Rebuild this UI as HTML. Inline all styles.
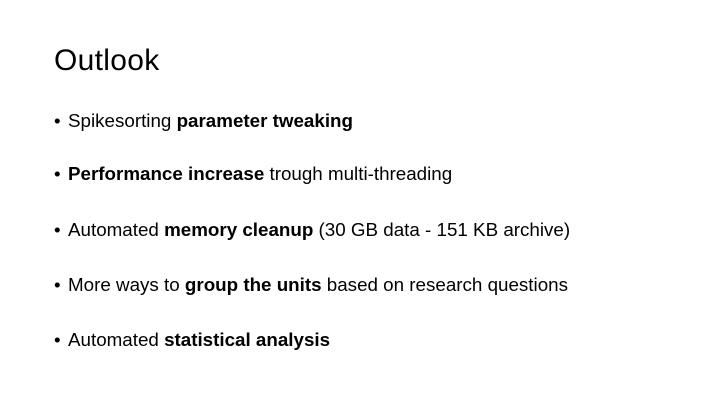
<!DOCTYPE html>
<html><head><meta charset="utf-8"><style>
body{margin:0;width:720px;height:405px;background:#fff;overflow:hidden;font-family:"Liberation Sans",sans-serif;color:#000}
h1{position:absolute;left:54px;top:44px;margin:0;font-weight:normal;font-size:30px;letter-spacing:0.3px}
.b{position:absolute;left:54px;font-size:18.8px;white-space:nowrap}
.b::before{content:"•";position:absolute;left:0}
.b span.t{margin-left:14px}
</style></head><body>
<h1>Outlook</h1>
<div class="b" style="top:110px"><span class="t">Spikesorting <b>parameter tweaking</b></span></div>
<div class="b" style="top:163px"><span class="t"><b>Performance increase</b> trough multi-threading</span></div>
<div class="b" style="top:219px"><span class="t">Automated <b>memory cleanup</b> (30 GB data - 151 KB archive)</span></div>
<div class="b" style="top:274px"><span class="t">More ways to <b>group the units</b> based on research questions</span></div>
<div class="b" style="top:329px"><span class="t">Automated <b>statistical analysis</b></span></div>
</body></html>
